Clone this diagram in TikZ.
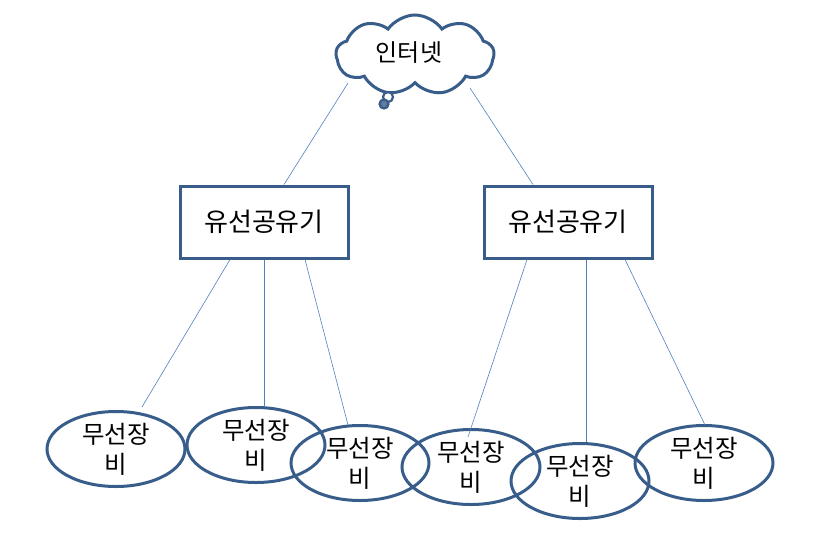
\documentclass[tikz,border=0pt]{standalone}
\usepackage{fontspec}
\setmainfont{Noto Sans CJK KR}
\usepackage{tikz}
\usetikzlibrary{calc,shapes.geometric,shapes.symbols}
\definecolor{edgeblue}{RGB}{56,93,138}
\definecolor{wireblue}{RGB}{79,129,189}
\tikzset{
  netcloud/.style={cloud, cloud puffs=9, cloud puff arc=110, aspect=2,
              draw=edgeblue, line width=3pt, fill=white, inner sep=0pt,
              minimum width=158pt, minimum height=80pt},
  router/.style={draw=edgeblue, line width=3pt, fill=white,
              minimum width=168pt, minimum height=72pt,
              font=\fontsize{26}{30}\selectfont},
  device/.style={ellipse, draw=edgeblue, line width=3pt, inner sep=0pt,
              minimum width=138pt, minimum height=75pt, align=center,
              font=\fontsize{24.5}{30}\selectfont},
  wire/.style={wireblue, line width=0.6pt},
  lbl/.style={font=\fontsize{24}{28}\selectfont},
}
\begin{document}
\begin{tikzpicture}[x=1pt, y=-1pt]
        \useasboundingbox (0,0) rectangle (822,539);
        % internet cloud with thought bubble
        \node[netcloud] (net) at (415,55) {};
        \node[lbl] (netlbl) at (409,53) {인터넷};
        \draw[edgeblue, line width=2.2pt, fill=white] (388,97) circle (5);
        \draw[edgeblue, line width=2.2pt, fill=edgeblue!80] (384,104) circle (4.5);
        % wired routers
        \node[router] (r1) at (264,222) {유선공유기};
        \node[router] (r2) at (568,222) {유선공유기};
        % wireless devices
        \node[device] (w1) at (116,449) {무선장\\비};
        \node[device] (w2) at (256,445) {무선장\\비};
        \node[device] (w3) at (360,463) {무선장\\비};
        \node[device] (w4) at (471,467) {무선장\\비};
        \node[device] (w5) at (580,481) {무선장\\비};
        \node[device] (w6) at (704,463) {무선장\\비};
        % connections
        \draw[wire] ($(net.center)+(-67,28)$) -- ($(r1.north)+(20,0)$);
        \draw[wire] ($(net.center)+(55,33)$) -- ($(r2.north)+(-35,0)$);
        \draw[wire] ($(r1.south)+(-34,0)$) -- ($(w1.center)+(26,-42)$);
        \draw[wire] (r1.south) -- ($(w2.center)+(8,-38)$);
        \draw[wire] ($(r1.south)+(41,0)$) -- ($(w3.center)+(-12,-38)$);
        \draw[wire] ($(r2.south)+(-41,0)$) -- ($(w4.center)+(-3,-30)$);
        \draw[wire] ($(r2.south)+(18,0)$) -- ($(w5.center)+(6,-39)$);
        \draw[wire] ($(r2.south)+(57,0)$) -- ($(w6.center)+(1,-38)$);
\end{tikzpicture}
\end{document}
